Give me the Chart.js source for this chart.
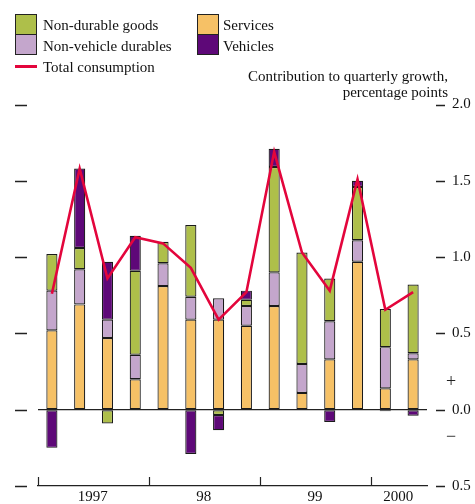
<!DOCTYPE html>
<html>
<head>
<meta charset="utf-8">
<script src="https://cdn.jsdelivr.net/npm/chart.js@4"></script>
<style>
  html, body { margin: 0; padding: 0; background: #fff; }
  #wrap { position: relative; width: 475px; height: 504px; font-family: "Liberation Serif", "DejaVu Serif", serif; color: #111; }
  #wrap canvas { position: absolute; left: 0; top: 0; }
  .sw { position: absolute; width: 20px; height: 19px; border: 1px solid #222; }
  .lt { position: absolute; font-size: 15px; line-height: 21px; white-space: nowrap; }
  #title { position: absolute; right: 27px; top: 68px; font-size: 15px; line-height: 16px; text-align: right; white-space: nowrap; }
</style>
</head>
<body>
<div id="wrap">
  <canvas id="c" width="475" height="504"></canvas>
  <div class="sw" style="left:15px;top:14px;background:#AEBF4A"></div>
  <div class="sw" style="left:15px;top:34px;background:#C4A6CC"></div>
  <div style="position:absolute;left:15px;top:65px;width:22px;height:3px;background:#E3053C"></div>
  <div class="lt" style="left:43px;top:15px">Non-durable goods</div>
  <div class="lt" style="left:43px;top:36px">Non-vehicle durables</div>
  <div class="lt" style="left:43px;top:57px">Total consumption</div>
  <div class="sw" style="left:197px;top:14px;background:#F6C166"></div>
  <div class="sw" style="left:197px;top:34px;background:#5E0878"></div>
  <div class="lt" style="left:223px;top:15px">Services</div>
  <div class="lt" style="left:223px;top:36px">Vehicles</div>
  <div id="title">Contribution to quarterly growth,<br>percentage points</div>
</div>
<script>
// ---- data ----
const quarters = ["1997 Q1","1997 Q2","1997 Q3","1997 Q4","1998 Q1","1998 Q2","1998 Q3","1998 Q4",
                  "1999 Q1","1999 Q2","1999 Q3","1999 Q4","2000 Q1","2000 Q2"];
const yearTickLabels = ["","1997","","","","98","","","","99","","","2000",""];
const yearStartIndex = [0, 4, 8, 12];
const services           = [0.52, 0.69, 0.47, 0.20, 0.81, 0.59, 0.59, 0.55, 0.68, 0.11, 0.33, 0.97, 0.14, 0.33];
const nonVehicleDurables = [0.26, 0.23, 0.12, 0.16, 0.15, 0.15, 0.14, 0.13, 0.22, 0.19, 0.25, 0.14, 0.27, 0.04];
const nonDurableGoods    = [0.24, 0.14, -0.09, 0.55, 0.14, 0.47, -0.035, 0.04, 0.69, 0.73, 0.28, 0.35, 0.25, 0.45];
const vehicles           = [-0.25, 0.52, 0.38, 0.23, 0, -0.29, -0.10, 0.06, 0.12, 0, -0.08, 0.04, -0.01, -0.04];
const totalConsumption   = [0.76, 1.58, 0.86, 1.13, 1.09, 0.93, 0.59, 0.77, 1.69, 1.03, 0.78, 1.51, 0.655, 0.77];
const yTickLabels = {"-0.5":"0.5","0":"0.0","0.5":"0.5","1":"1.0","1.5":"1.5","2":"2.0"};

const FONT = "'Liberation Serif', 'DejaVu Serif', serif";

const axisMarks = {
  id: 'axisMarks',
  afterDraw(chart) {
    const {ctx, chartArea, scales: {x, y}} = chart;
    ctx.save();
    ctx.strokeStyle = '#222';
    ctx.lineWidth = 1.5;
    y.ticks.forEach(t => {
      const py = Math.round(y.getPixelForValue(t.value)) + 0.5;
      ctx.beginPath();
      ctx.moveTo(15, py); ctx.lineTo(27, py);
      ctx.moveTo(chartArea.right + 9, py); ctx.lineTo(chartArea.right + 18, py);
      ctx.stroke();
    });
    const cw = x.getPixelForValue(1) - x.getPixelForValue(0);
    ctx.lineWidth = 1.2;
    yearStartIndex.forEach(i => {
      const px = Math.round(x.getPixelForValue(i) - cw / 2) + 0.5;
      ctx.beginPath();
      ctx.moveTo(px, chartArea.bottom); ctx.lineTo(px, chartArea.bottom - 9);
      ctx.stroke();
    });
    ctx.fillStyle = '#222';
    ctx.font = "18px " + FONT;
    ctx.textAlign = 'center';
    ctx.textBaseline = 'middle';
    const z = y.getPixelForValue(0);
    ctx.fillText('+', chartArea.right + 24, z - 27);
    ctx.fillText('\u2212', chartArea.right + 24, z + 28);
    ctx.restore();
  }
};

const barCommon = { borderColor: '#1a1a1a', borderWidth: 1.2, borderSkipped: false, order: 1,
                    categoryPercentage: 1, barPercentage: 0.4, stack: 'c' };

new Chart(document.getElementById('c'), {
  data: {
    labels: quarters,
    datasets: [
      { type: 'line', label: 'Total consumption', data: totalConsumption, borderColor: '#E3053C',
        borderWidth: 2.6, pointRadius: 0, tension: 0, fill: false, order: 0, stack: 'total' },
      Object.assign({ type: 'bar', label: 'Services', data: services, backgroundColor: '#F6C166' }, barCommon),
      Object.assign({ type: 'bar', label: 'Non-vehicle durables', data: nonVehicleDurables, backgroundColor: '#C4A6CC' }, barCommon),
      Object.assign({ type: 'bar', label: 'Non-durable goods', data: nonDurableGoods, backgroundColor: '#AEBF4A' }, barCommon),
      Object.assign({ type: 'bar', label: 'Vehicles', data: vehicles, backgroundColor: '#5E0878' }, barCommon)
    ]
  },
  options: {
    responsive: false,
    animation: false,
    layout: { padding: { left: 38, right: 0, top: 104.5, bottom: 0 } },
    plugins: { legend: { display: false }, tooltip: { enabled: false } },
    scales: {
      x: {
        stacked: true,
        offset: true,
        grid: { display: false, drawTicks: false },
        border: { display: true, color: '#222', width: 1.2 },
        ticks: {
          autoSkip: false, maxRotation: 0, padding: 2,
          labelOffset: 13,
          color: '#111',
          font: { family: FONT, size: 15 },
          callback: (v, i) => yearTickLabels[i]
        },
        afterFit: s => { s.height = 18; }
      },
      y: {
        position: 'right',
        stacked: true,
        min: -0.5, max: 2.0,
        grid: {
          drawTicks: true,
          tickLength: 23,
          tickColor: 'rgba(0,0,0,0)',
          color: c => (c.tick && c.tick.value === 0) ? '#222' : 'rgba(0,0,0,0)',
          lineWidth: 1.2
        },
        border: { display: false },
        ticks: {
          stepSize: 0.5, padding: 2, color: '#111',
          font: { family: FONT, size: 15 },
          callback: v => yTickLabels[String(v)]
        },
        afterFit: s => { s.width = 48; }
      }
    }
  },
  plugins: [axisMarks]
});
</script>
</body>
</html>
